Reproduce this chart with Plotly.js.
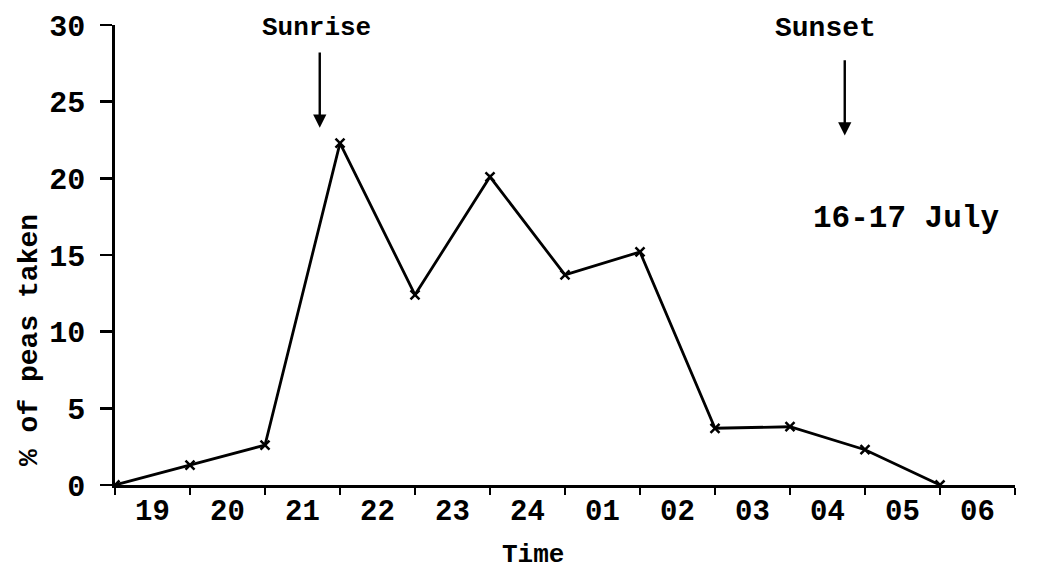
<!DOCTYPE html>
<html><head><meta charset="utf-8">
<script src="https://cdn.plot.ly/plotly-3.0.1.min.js"></script>
<style>html,body{margin:0;padding:0;background:#fff}</style>
</head><body>
<div id="chart" style="width:1042px;height:581px"></div>
<script>
// Hour labels (categories placed between hour boundaries)
var hourLabels = ["19","20","21","22","23","24","01","02","03","04","05","06"];
// Sampling points at hour boundaries (index along the time axis)
var sampleIndex = [0,1,2,3,4,5,6,7,8,9,10,11];
// % of peas taken
var peasTaken = [0,1.3,2.6,22.3,12.4,20.1,13.7,15.2,3.7,3.8,2.3,0];

var FONT = "Liberation Mono, Courier New, monospace";
var labelPos = hourLabels.map(function(_, i){ return i + 0.5; });

var trace = {
  x: sampleIndex, y: peasTaken, type: "scatter", mode: "lines+markers",
  line: {color: "#000", width: 2.8},
  marker: {symbol: "x-thin", size: 9, color: "#000", line: {color: "#000", width: 2.5}},
  showlegend: false, hoverinfo: "skip"
};

var layout = {
  width: 1042, height: 581,
  margin: {l: 115, r: 27, t: 25, b: 96},
  paper_bgcolor: "#fff", plot_bgcolor: "#fff",
  font: {family: FONT, color: "#000", size: 26, weight: "bold"},
  xaxis: {
    range: [0, 12], showgrid: false, zeroline: false,
    showline: true, linecolor: "#000", linewidth: 2.8,
    tickmode: "array", tickvals: labelPos, ticktext: hourLabels,
    ticks: "", ticklabelstandoff: -3,
    tickfont: {family: FONT, size: 29, color: "#000", weight: "bold"},
    minor: {tickmode: "linear", tick0: 0, dtick: 1, ticks: "outside", ticklen: 7, tickwidth: 2.2, tickcolor: "#000", showgrid: false},
    fixedrange: true
  },
  yaxis: {
    range: [0, 30], showgrid: false, zeroline: false,
    showline: true, linecolor: "#000", linewidth: 2.8,
    tickmode: "array", tickvals: [0,5,10,15,20,25,30],
    ticks: "outside", ticklen: 12, tickwidth: 2.4, tickcolor: "#000",
    ticklabelstandoff: 9,
    tickfont: {family: FONT, size: 30, color: "#000", weight: "bold"},
    fixedrange: true
  },
  annotations: [
    {text: "Time", xref: "paper", yref: "paper", x: (533-115)/900, y: -(555-485)/460,
     showarrow: false, xanchor: "center", yanchor: "middle", font: {family: FONT, size: 26, weight: "bold"}},
    {text: "% of peas taken", xref: "paper", yref: "paper", x: -(115-30)/900, y: (485-340)/460,
     textangle: -90, showarrow: false, xanchor: "center", yanchor: "middle", font: {family: FONT, size: 28, weight: "bold"}},
    {text: "Sunrise", xref: "x", yref: "y", x: 2.69, y: 29.8, showarrow: false, font: {family: FONT, size: 26, weight: "bold"}},
    {text: "Sunset", xref: "x", yref: "y", x: 9.47, y: 29.8, showarrow: false, font: {family: FONT, size: 28, weight: "bold"}},
    {text: "16-17 July", xref: "x", yref: "y", x: 10.55, y: 17.4, showarrow: false, font: {family: FONT, size: 31, weight: "bold"}},
    {text: "", xref: "x", yref: "y", x: 2.73, y: 23.3, axref: "x", ayref: "y", ax: 2.73, ay: 28.3,
     showarrow: true, arrowhead: 2, arrowsize: 1.1, arrowwidth: 2.4, arrowcolor: "#000"},
    {text: "", xref: "x", yref: "y", x: 9.73, y: 22.8, axref: "x", ayref: "y", ax: 9.73, ay: 27.8,
     showarrow: true, arrowhead: 2, arrowsize: 1.1, arrowwidth: 2.4, arrowcolor: "#000"}
  ]
};

Plotly.newPlot("chart", [trace], layout, {displayModeBar: false, staticPlot: true});
</script>
</body></html>
